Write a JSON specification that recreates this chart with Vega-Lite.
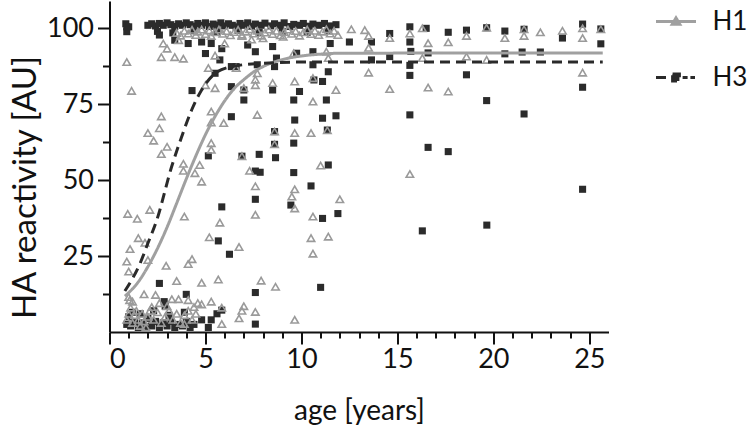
{
"$schema": "https://vega.github.io/schema/vega-lite/v6.json",
"width": 499, "height": 331,
"autosize": "none",
"padding": {"left": 109.5, "top": 1, "right": 141.5, "bottom": 93},
"config": {"view": {"stroke": null}, "font": "Lato",
  "axis": {"grid": false, "domainColor": "#111", "domainWidth": 2, "tickColor": "#111", "tickWidth": 2, "labelColor": "#111", "titleColor": "#111", "labelFontSize": 27, "titleFontSize": 28, "titleFontWeight": "normal", "labelFont": "Lato", "titleFont": "Lato", "labelOverlap": false}},
"resolve": {"axis": {"x": "independent", "y": "independent"}},
"datasets": {
"h3": [[0.85,101.5],[0.9,100.5],[2.0,101],[2.2,101.5],[2.4,100.8],[2.6,101.6],[2.8,101],[3.0,101.8],[3.2,101.2],[3.4,100.6],[3.6,101.5],[3.8,101],[4.0,101.8],[4.2,101.2],[4.4,100.7],[4.6,101.6],[4.8,101],[5.0,101.8],[5.2,100.6],[5.4,101.4],[5.6,101],[5.8,101.8],[6.0,100.8],[6.2,101.5],[6.4,101],[6.6,100.5],[6.8,101.6],[7.0,101],[7.2,101.8],[7.4,100.7],[7.6,101.4],[7.9,101],[8.1,101.7],[8.4,100.8],[8.6,101.5],[8.9,101],[9.1,101.8],[9.4,100.6],[9.6,101.3],[9.9,101],[10.1,101.6],[10.4,100.7],[10.6,101.4],[10.9,101],[11.2,101.6],[11.5,100.8],[11.8,101.2],
[0.9,98.9],[1.0,100.5],[2.5,99],[3.3,98.5],[4.4,99.2],[5.6,98.8],[6.7,99.3],[7.8,98.6],[9.0,99],[10.3,98.7],[11.4,99.2],
[2.6,97.8],[3.4,96.1],[4.1,95],[4.8,95.5],[5.0,91.7],[5.3,95],[5.85,93.3],[5.75,89.6],[6.35,87.4],[5.5,85.2],[4.3,79.5],[6.35,80.8],[7.2,94.5],[7.6,92.3],[8.5,94],[8.7,90.2],[9.75,91.8],[10.6,92.3],[10.6,88],[11.5,95],[12.5,95.5],[6.6,87.4],[7.7,88],[8.6,87.4],[11.4,85.7],[10.65,83],[11.1,82.5],[7.0,79.7],[8.5,79.7],[9.9,79.2],[9.6,76.4],[11.3,76.4],[7.0,76.4],[6.35,70.9],[9.65,69.8],[11.1,70.4],[11.8,71.2],[8.6,66],[9.6,62.2],[11.35,66.5],[8.6,61.8],[7.8,58.5],[8.65,57.4],[6.9,57.9],[7.6,53],[7.85,52.6],[9.6,52.5],[11.4,55],[10.5,48.1],[7.6,43.7],[9.45,41.8],[11.9,39],[11.1,37.4],[5.15,58],[5.85,41.2],[5.67,30],[6.25,25.6],[2.6,16],[4.0,12.4],[2.85,10],[4.8,4],[5.3,4],[5.6,6],[5.85,7.2],[5.15,1.5],[7.6,13],[7.6,2.6],[11.0,14.7],
[13.65,95.5],[13.65,89.6],[14.6,98.3],[14.6,90.7],[15.65,100.5],[15.65,95.5],[15.7,92.4],[15.65,87.8],[15.65,84.5],[15.65,71.5],[16.5,100],[16.6,91.9],[16.6,60.8],[17.65,98.7],[17.65,59.4],[18.6,99.4],[18.6,84.7],[19.65,100.2],[19.65,76.2],[20.6,99.1],[20.6,91.6],[21.6,99.7],[21.5,92.2],[21.6,71.8],[22.45,92.2],[23.6,96.8],[24.65,101.4],[24.65,80.6],[24.65,47],[25.6,94.9],[25.6,99.8],[16.3,33.3],[19.66,35.2],
[0.9,2.5],[1.0,5],[1.1,2],[1.3,3.5],[1.5,1.5],[1.7,3],[1.9,1.8],[2.0,4.5],[2.2,2],[2.4,3.5],[2.6,1.5],[2.8,3],[3.0,2],[3.2,3.5],[3.4,1.5],[3.6,2.5],[3.8,2],[4.0,3.5],[4.2,1.5],[4.4,2.5],[1.2,6.5],[2.3,7],[3.1,5.5],[1.6,6],[2.9,8.5],[3.9,6.5]],
"h1": [[3.5,98.5],[3.7,97.6],[3.9,99.2],[4.1,98.3],[4.3,99.5],[4.5,97.8],[4.6,98.9],[4.8,99.6],[5.0,98.1],[5.2,99.3],[5.3,97.5],[5.5,98.7],[5.7,99.6],[5.9,98.2],[6.1,99.1],[6.3,97.7],[6.5,98.8],[6.7,99.5],[6.9,97.9],[7.1,98.9],[7.3,99.7],[7.5,98.3],[7.7,99.2],[7.9,97.6],[8.1,98.6],[8.3,99.6],[8.5,98.1],[8.7,99.2],[8.9,97.7],[9.1,98.8],[9.3,99.6],[9.5,98.2],[9.7,99.1],[9.9,97.6],[10.1,98.7],[10.3,99.6],[10.5,98.1],[10.7,99.2],[10.9,97.8],[11.1,98.9],[11.3,99.7],[11.5,98.3],[11.7,99.2],[11.9,97.8],[7.4,96.3],
[0.9,88.9],[1.15,79.4],[2.7,90.5],[2.8,95],[3.0,93.3],[3.4,90.5],[3.85,90],[5.5,91],[5.15,86.9],[5.0,81.3],[5.5,80.3],[5.3,72.6],[2.7,71],[6.0,95],[3.6,96.1],[6.6,86.9],[7.0,80.3],[7.7,85.2],[7.6,83.1],[7.6,81.3],[8.5,82],[9.65,82.5],[10.6,83.6],[10.6,75.9],[11.8,79.7],[11.3,92.3],[11.4,90.2],[9.05,97.2],[7.7,71.5],[9.6,91.8],[8.0,96.7],[6.9,97.5],
[2.0,65.5],[2.6,67.1],[2.3,63],[3.0,61],[2.7,58.6],[3.85,55.4],[3.85,53.1],[4.45,52.3],[4.7,55],[4.8,49.5],[5.3,62.2],[5.3,60],[5.3,69],[5.95,68.8],[0.95,38.9],[2.1,40.2],[1.45,37.3],[3.9,38],
[8.6,66],[9.65,65.5],[10.5,65.5],[11.35,66.4],[8.6,61.8],[6.9,57.9],[7.3,53.1],[11.0,54.8],[7.6,48],[9.65,47],[9.5,44.6],[9.65,40.7],[12.0,43.7],[7.6,38.6],[10.6,38],
[1.5,30.9],[1.85,29.4],[1.07,27.3],[2.0,23.7],[0.9,23.2],[1.0,19.9],[2.95,21.8],[4.1,22.4],[4.3,24],[3.5,16.8],[4.8,16.2],[5.67,17.3],[5.2,31.2],[5.75,36],[1.8,12.4],[3.25,10.8],[3.6,10.8],[2.4,12.2],[4.1,10.5],[4.8,9.1],[5.3,10],[5.85,8],[5.85,2.6],[1.05,10.5],[2.2,8.2],[4.4,8.2],[3.9,2.6],
[6.75,28],[7.9,16.9],[8.65,14.9],[7.0,8.5],[6.9,7],[6.75,4.5],[7.6,6.6],[9.65,4],[10.5,30.9],[11.4,31.4],[10.6,25.8],
[12.6,99.7],[13.3,99.4],[13.5,97.5],[13.5,93.6],[13.5,85.4],[14.6,96.8],[14.6,80],[15.65,98.3],[15.65,52],[16.3,90.2],[16.3,100],[16.6,95.1],[16.6,80.5],[17.65,95.4],[17.65,79.2],[18.6,97.5],[18.6,90.7],[19.65,100.2],[19.65,89.6],[20.6,96.8],[21.6,99.7],[21.6,97.5],[22.45,98.7],[23.6,99.2],[24.65,100],[24.65,96.8],[24.65,85.4],[25.6,99.7],
[0.9,4],[1.0,6],[1.1,8],[1.2,3],[1.3,5.5],[1.4,7],[1.5,4],[1.6,2],[1.7,6],[1.8,3.5],[1.9,1.5],[2.0,5],[2.1,7],[2.3,4],[2.5,6.5],[2.7,3],[2.9,5],[3.1,7],[3.3,4],[3.5,6],[3.7,3],[3.9,5.5],[4.1,7],[4.3,4],[4.5,6],[4.6,9.5],[1.0,11.5],[1.2,10],[2.6,9.5],[3.0,8.5]],
"fit": [
{"virus":"H1","age":0.8,"value":11.8},{"virus":"H1","age":1.5,"value":16.5},{"virus":"H1","age":2,"value":21.5},{"virus":"H1","age":2.5,"value":27.5},{"virus":"H1","age":3,"value":34.5},{"virus":"H1","age":3.5,"value":42.4},{"virus":"H1","age":4,"value":50.4},{"virus":"H1","age":4.5,"value":58},{"virus":"H1","age":5,"value":65},{"virus":"H1","age":5.5,"value":71},{"virus":"H1","age":6,"value":76.1},{"virus":"H1","age":6.5,"value":80.2},{"virus":"H1","age":7,"value":83.1},{"virus":"H1","age":7.5,"value":85.6},{"virus":"H1","age":8,"value":87.4},{"virus":"H1","age":9,"value":89.7},{"virus":"H1","age":10,"value":90.9},{"virus":"H1","age":11,"value":91.5},{"virus":"H1","age":12,"value":91.8},{"virus":"H1","age":25.7,"value":91.9},
{"virus":"H3","age":0.8,"value":13.5},{"virus":"H3","age":1.6,"value":22.7},{"virus":"H3","age":2,"value":29.2},{"virus":"H3","age":2.45,"value":36.6},{"virus":"H3","age":3.24,"value":54.5},{"virus":"H3","age":3.76,"value":64.3},{"virus":"H3","age":4.28,"value":73.1},{"virus":"H3","age":4.8,"value":79.7},{"virus":"H3","age":5.4,"value":84.6},{"virus":"H3","age":6.36,"value":87.4},{"virus":"H3","age":8,"value":88.5},{"virus":"H3","age":10,"value":88.9},{"virus":"H3","age":25.7,"value":88.9}
]
},
"layer": [
{"data": {"name": "h3"},
 "transform": [{"calculate": "datum[0]", "as": "age"}, {"calculate": "datum[1]", "as": "reactivity"}],
 "mark": {"type": "point", "shape": "square", "filled": true, "size": 50, "color": "#2b2b2b", "opacity": 1},
 "encoding": {
  "x": {"field": "age", "type": "quantitative", "scale": {"domain": [0, 26], "nice": false},
   "axis": {"orient": "bottom", "values": [0,5,10,15,20,25], "tickSize": 12, "labelPadding": 2, "title": "age [years]", "titleY": 87, "titleBaseline": "alphabetic"}},
  "y": {"field": "reactivity", "type": "quantitative", "scale": {"domain": [0, 109], "nice": false},
   "axis": {"orient": "left", "values": [25,50,75,100], "tickSize": 12, "labelPadding": 4, "title": "HA reactivity [AU]", "titleFontSize": 33, "titleX": -74, "titleY": 186, "titleAngle": -90, "titleAlign": "center", "titleBaseline": "alphabetic"}}
 }},
{"data": {"name": "h1"},
 "transform": [{"calculate": "datum[0]", "as": "age"}, {"calculate": "datum[1]", "as": "reactivity"}],
 "mark": {"type": "point", "shape": "triangle-up", "filled": false, "size": 55, "stroke": "#9a9a9a", "strokeWidth": 1.6, "opacity": 1},
 "encoding": {
  "x": {"field": "age", "type": "quantitative", "axis": {"orient": "bottom", "values": [1,2,3,4,6,7,8,9,11,12,13,14,16,17,18,19,21,22,23,24], "tickSize": 6, "labels": false, "domain": false, "title": null}},
  "y": {"field": "reactivity", "type": "quantitative", "axis": {"orient": "left", "values": [12.5,37.5,62.5,87.5], "tickSize": 7, "labels": false, "domain": false, "title": null}}
 }},
{"data": {"name": "fit"},
 "mark": {"type": "line", "interpolate": "monotone", "strokeWidth": 3},
 "encoding": {
  "x": {"field": "age", "type": "quantitative", "axis": null},
  "y": {"field": "value", "type": "quantitative", "axis": null},
  "stroke": {"field": "virus", "type": "nominal", "scale": {"domain": ["H1", "H3"], "range": ["#a0a0a0", "#2a2a2a"]},
   "legend": {"title": null, "orient": "none", "legendX": 545, "legendY": -1, "symbolSize": 1600, "symbolStrokeWidth": 3, "labelFontSize": 26, "labelFont": "Lato", "labelColor": "#111", "labelOffset": 15, "rowPadding": 21,
    "encode": {"symbols": {"update": {
      "shape": {"signal": "datum.value === 'H1' ? 'M-1,0H1M0,-0.18L0.19,0.14L-0.19,0.14Z' : 'M-1,0H-0.38M0.33,0H0.58M0.72,0H0.95M-0.17,-0.17H0.17V0.17H-0.17Z'"},
      "fill": {"signal": "datum.value === 'H1' ? '#ffffff' : '#2a2a2a'"},
      "strokeDash": {"value": [1, 0]}}}}}},
  "strokeDash": {"field": "virus", "type": "nominal", "scale": {"domain": ["H1", "H3"], "range": [[1, 0], [10, 6]]}, "legend": null}
 }}
]
}
